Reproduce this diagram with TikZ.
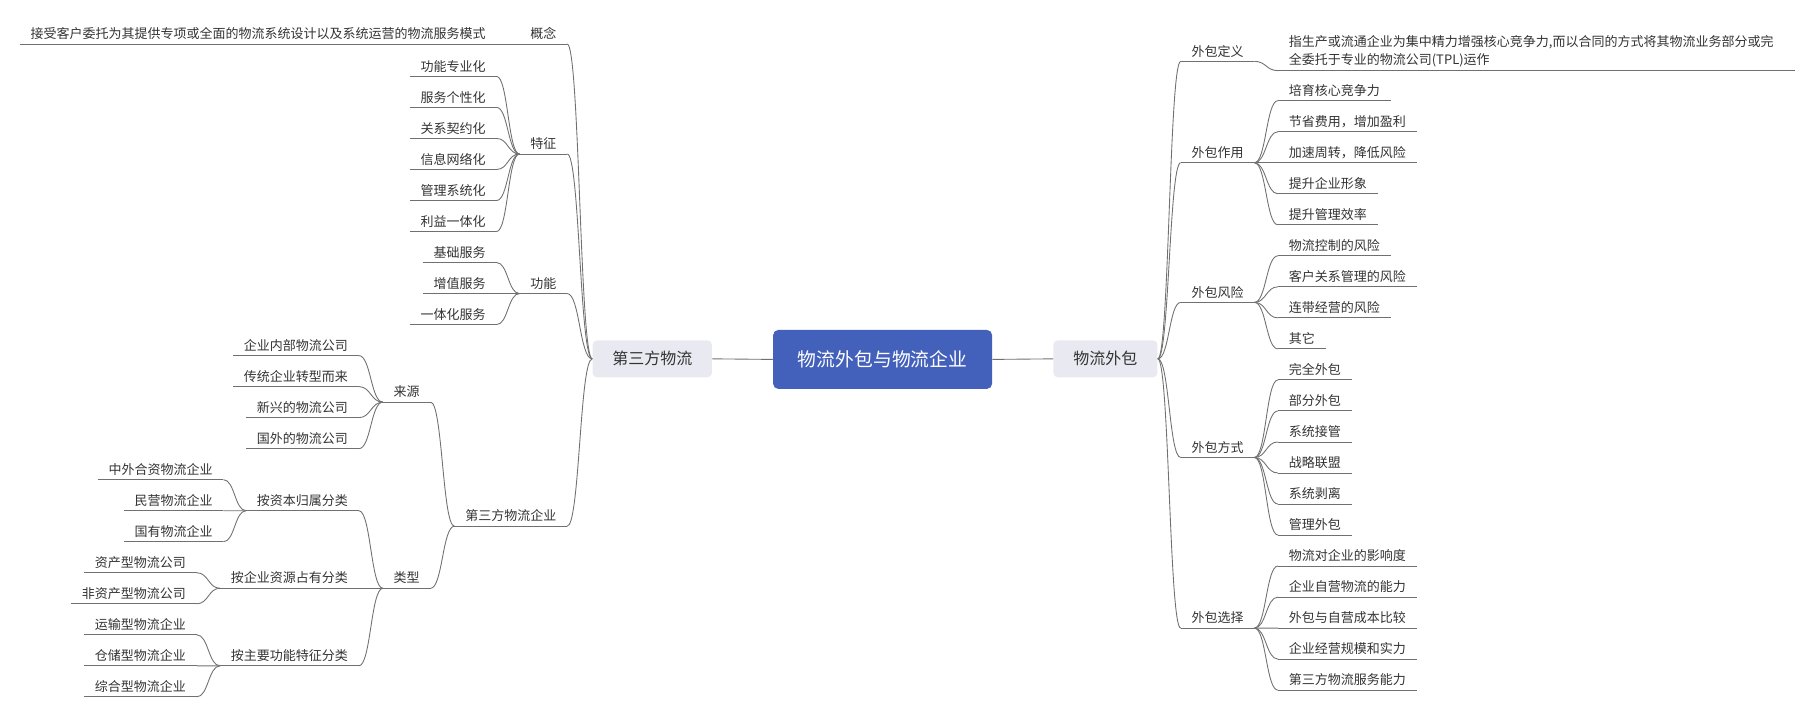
\documentclass[tikz,border=0pt]{standalone}
\usepackage{fontspec}
\setmainfont{Noto Sans CJK SC}
\usetikzlibrary{calc}

\definecolor{rootblue}{RGB}{67,96,186}
\definecolor{mainfill}{RGB}{233,234,241}
\definecolor{inkgray}{RGB}{51,51,51}
\definecolor{linegray}{RGB}{112,112,112}

\begin{document}
\begin{tikzpicture}[x=0.02315cm, y=-0.02315cm,
  link/.style={draw=linegray, line width=0.5pt},
  twig/.style={to path={.. controls ($(\tikztostart)!0.5!(\tikztostart-|\tikztotarget)$)
      and ($(\tikztotarget)!0.5!(\tikztotarget-|\tikztostart)$) .. (\tikztotarget)}},
  topic/.style={text=inkgray, font=\fontsize{7.4}{10.5}\selectfont,
      inner xsep=0.21cm, inner ysep=1.3pt, text height=6pt, text depth=1.5pt},
  mainbox/.style={fill=mainfill, rounded corners=2.5pt, text=inkgray,
      font=\fontsize{9.1}{11}\selectfont, minimum height=0.74cm, inner sep=0pt},
  rootbox/.style={fill=rootblue, rounded corners=3pt, text=white,
      font=\fontsize{10.7}{12}\selectfont, minimum width=4.38cm,
      minimum height=1.18cm, inner sep=0pt}]

  \useasboundingbox (0,0) rectangle (1568,620);

  % ============================================================
  % CENTRE — root topic and the two main topics
  % ============================================================
  \node[rootbox] (root) at (762.5,310.5) {物流外包与物流企业};
  \node[mainbox, minimum width=2.385cm] (tpl) at (563.5,310) {第三方物流};
  \node[mainbox, minimum width=2.08cm] (wb) at (955,310) {物流外包};

  \draw[link] (root.west) -- (tpl.east);
  \draw[link] (root.east) -- (wb.west);

  % ============================================================
  % LEFT — 第三方物流
  % leaf rows: underline y = 66 + 26.8*row   (row 0 .. 20)
  % ============================================================
  \begin{scope}

    % 概念
    \node[topic, anchor=south east] (gainian) at (490,38) {概念};
    \node[topic, anchor=south east] (gainianA) at (429,38)
      {接受客户委托为其提供专项或全面的物流系统设计以及系统运营的物流服务模式};
    \draw[link] (gainianA.south west) -- (gainian.south east);
    \draw[link] (tpl.west) to[twig] (gainian.south east);

    % 特征
    \node[topic, anchor=south east] (tezheng) at (490,133) {特征};
    \draw[link] (tezheng.south west) -- (tezheng.south east);
    \draw[link] (tpl.west) to[twig] (tezheng.south east);
    \foreach \lbl/\r in {功能专业化/0, 服务个性化/1, 关系契约化/2,
                         信息网络化/3, 管理系统化/4, 利益一体化/5}{
      \node[topic, anchor=south east] (tezheng\r) at (429,{66+26.8*\r}) {\lbl};
      \draw[link] (tezheng\r.south west) -- (tezheng\r.south east);
      \draw[link] (tezheng.south west) to[twig] (tezheng\r.south east);
    }

    % 功能
    \node[topic, anchor=south east] (gongneng) at (490,253.6) {功能};
    \draw[link] (gongneng.south west) -- (gongneng.south east);
    \draw[link] (tpl.west) to[twig] (gongneng.south east);
    \foreach \lbl/\r in {基础服务/6, 增值服务/7, 一体化服务/8}{
      \node[topic, anchor=south east] (gongneng\r) at (429,{66+26.8*\r}) {\lbl};
      \draw[link] (gongneng\r.south west) -- (gongneng\r.south east);
      \draw[link] (gongneng.south west) to[twig] (gongneng\r.south east);
    }

    % 第三方物流企业
    \node[topic, anchor=south east] (qiye) at (490,454.6) {第三方物流企业};
    \draw[link] (qiye.south west) -- (qiye.south east);
    \draw[link] (tpl.west) to[twig] (qiye.south east);

    % 来源
    \node[topic, anchor=south east] (laiyuan) at (372,347.4) {来源};
    \draw[link] (laiyuan.south west) -- (laiyuan.south east);
    \draw[link] (qiye.south west) to[twig] (laiyuan.south east);
    \foreach \lbl/\r in {企业内部物流公司/9, 传统企业转型而来/10,
                         新兴的物流公司/11, 国外的物流公司/12}{
      \node[topic, anchor=south east] (laiyuan\r) at (310,{66+26.8*\r}) {\lbl};
      \draw[link] (laiyuan\r.south west) -- (laiyuan\r.south east);
      \draw[link] (laiyuan.south west) to[twig] (laiyuan\r.south east);
    }

    % 类型
    \node[topic, anchor=south east] (leixing) at (372,508.2) {类型};
    \draw[link] (leixing.south west) -- (leixing.south east);
    \draw[link] (qiye.south west) to[twig] (leixing.south east);

    \node[topic, anchor=south east] (ziben) at (310,441.2) {按资本归属分类};
    \node[topic, anchor=south east] (ziyuan) at (310,508.2) {按企业资源占有分类};
    \node[topic, anchor=south east] (zhuyao) at (310,575.2) {按主要功能特征分类};
    \foreach \n in {ziben, ziyuan, zhuyao}{
      \draw[link] (\n.south west) -- (\n.south east);
      \draw[link] (leixing.south west) to[twig] (\n.south east);
    }

    \foreach \lbl/\r in {中外合资物流企业/13, 民营物流企业/14, 国有物流企业/15}{
      \node[topic, anchor=south east] (ziben\r) at (193,{66+26.8*\r}) {\lbl};
      \draw[link] (ziben\r.south west) -- (ziben\r.south east);
      \draw[link] (ziben.south west) to[twig] (ziben\r.south east);
    }
    \foreach \lbl/\r in {资产型物流公司/16, 非资产型物流公司/17}{
      \node[topic, anchor=south east] (ziyuan\r) at (170,{66+26.8*\r}) {\lbl};
      \draw[link] (ziyuan\r.south west) -- (ziyuan\r.south east);
      \draw[link] (ziyuan.south west) to[twig] (ziyuan\r.south east);
    }
    \foreach \lbl/\r in {运输型物流企业/18, 仓储型物流企业/19, 综合型物流企业/20}{
      \node[topic, anchor=south east] (zhuyao\r) at (170,{66+26.8*\r}) {\lbl};
      \draw[link] (zhuyao\r.south west) -- (zhuyao\r.south east);
      \draw[link] (zhuyao.south west) to[twig] (zhuyao\r.south east);
    }

  \end{scope}

  % ============================================================
  % RIGHT — 物流外包
  % leaf rows: underline y = 87 + 26.8*row   (row 0 .. 19)
  % ============================================================
  \begin{scope}

    % 外包定义
    \node[topic, anchor=south west] (dingyi) at (1020,53) {外包定义};
    \draw[link] (dingyi.south west) -- (dingyi.south east);
    \draw[link] (wb.east) to[twig] (dingyi.south west);
    \node[text=inkgray, font=\fontsize{7.4}{10.5}\selectfont, align=left,
          text width=9.9cm, inner xsep=0.21cm, inner ysep=1.8pt,
          anchor=south west] (dingyiA) at (1104,61)
      {指生产或流通企业为集中精力增强核心竞争力,而以合同的方式将其物流业务部分或完\\
       全委托于专业的物流公司(TPL)运作};
    \draw[link] (dingyiA.south west) -- (dingyiA.south east);
    \draw[link] (dingyi.south east) to[twig] (dingyiA.south west);

    % 外包作用
    \node[topic, anchor=south west] (zuoyong) at (1020,140.6) {外包作用};
    \draw[link] (zuoyong.south west) -- (zuoyong.south east);
    \draw[link] (wb.east) to[twig] (zuoyong.south west);
    \foreach \lbl/\r in {培育核心竞争力/0, 节省费用，增加盈利/1, 加速周转，降低风险/2,
                         提升企业形象/3, 提升管理效率/4}{
      \node[topic, anchor=south west] (zuoyong\r) at (1104,{87+26.8*\r}) {\lbl};
      \draw[link] (zuoyong\r.south west) -- (zuoyong\r.south east);
      \draw[link] (zuoyong.south east) to[twig] (zuoyong\r.south west);
    }

    % 外包风险
    \node[topic, anchor=south west] (fengxian) at (1020,261.2) {外包风险};
    \draw[link] (fengxian.south west) -- (fengxian.south east);
    \draw[link] (wb.east) to[twig] (fengxian.south west);
    \foreach \lbl/\r in {物流控制的风险/5, 客户关系管理的风险/6,
                         连带经营的风险/7, 其它/8}{
      \node[topic, anchor=south west] (fengxian\r) at (1104,{87+26.8*\r}) {\lbl};
      \draw[link] (fengxian\r.south west) -- (fengxian\r.south east);
      \draw[link] (fengxian.south east) to[twig] (fengxian\r.south west);
    }

    % 外包方式
    \node[topic, anchor=south west] (fangshi) at (1020,395.2) {外包方式};
    \draw[link] (fangshi.south west) -- (fangshi.south east);
    \draw[link] (wb.east) to[twig] (fangshi.south west);
    \foreach \lbl/\r in {完全外包/9, 部分外包/10, 系统接管/11,
                         战略联盟/12, 系统剥离/13, 管理外包/14}{
      \node[topic, anchor=south west] (fangshi\r) at (1104,{87+26.8*\r}) {\lbl};
      \draw[link] (fangshi\r.south west) -- (fangshi\r.south east);
      \draw[link] (fangshi.south east) to[twig] (fangshi\r.south west);
    }

    % 外包选择
    \node[topic, anchor=south west] (xuanze) at (1020,542.6) {外包选择};
    \draw[link] (xuanze.south west) -- (xuanze.south east);
    \draw[link] (wb.east) to[twig] (xuanze.south west);
    \foreach \lbl/\r in {物流对企业的影响度/15, 企业自营物流的能力/16,
                         外包与自营成本比较/17, 企业经营规模和实力/18,
                         第三方物流服务能力/19}{
      \node[topic, anchor=south west] (xuanze\r) at (1104,{87+26.8*\r}) {\lbl};
      \draw[link] (xuanze\r.south west) -- (xuanze\r.south east);
      \draw[link] (xuanze.south east) to[twig] (xuanze\r.south west);
    }

  \end{scope}

\end{tikzpicture}
\end{document}
